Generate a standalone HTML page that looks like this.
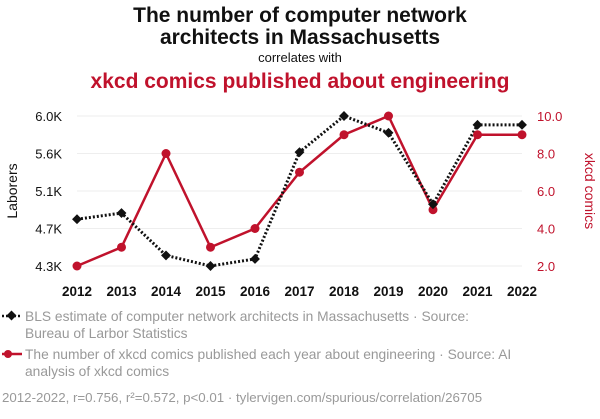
<!DOCTYPE html>
<html><head><meta charset="utf-8"><style>
body{margin:0;background:#fff;width:600px;height:414px;overflow:hidden;font-family:"Liberation Sans",sans-serif}
svg text{font-family:"Liberation Sans",sans-serif}
</style></head><body>
<svg id="chart" width="600" height="414">
<text x="300" y="22" text-anchor="middle" font-size="21" font-weight="bold" fill="#111">The number of computer network</text>
<text x="300" y="44" text-anchor="middle" font-size="21" font-weight="bold" fill="#111">architects in Massachusetts</text>
<text x="300" y="62" text-anchor="middle" font-size="13" fill="#111">correlates with</text>
<text x="300" y="88" text-anchor="middle" font-size="21" font-weight="bold" fill="#c0122c">xkcd comics published about engineering</text>
<g id="grid"></g><g id="axes"></g><g id="marks"></g>
<text transform="translate(17,191) rotate(-90)" text-anchor="middle" font-size="14" fill="#111">Laborers</text>
<text transform="translate(585,191) rotate(90)" text-anchor="middle" font-size="14" fill="#c0122c">xkcd comics</text>
<g>
<line x1="2" y1="316" x2="22" y2="316" stroke="#111" stroke-width="2.5" stroke-dasharray="2,2"/>
<rect x="8" y="312" width="7" height="7" transform="rotate(45 11.5 315.5)" fill="#111"/>
<text x="25" y="321" font-size="13.8" fill="#999">BLS estimate of computer network architects in Massachusetts · Source:</text>
<text x="25" y="338" font-size="13.8" fill="#999">Bureau of Larbor Statistics</text></g>
<g>
<line x1="2" y1="354" x2="22" y2="354" stroke="#c0122c" stroke-width="2.5"/>
<circle cx="8" cy="354" r="4" fill="#c0122c"/>
<text x="25" y="359" font-size="13.8" fill="#999">The number of xkcd comics published each year about engineering · Source: AI</text>
<text x="25" y="376" font-size="13.8" fill="#999">analysis of xkcd comics</text></g>
<text x="2" y="402" font-size="13.3" fill="#999">2012-2022, r=0.756, r²=0.572, p&lt;0.01 · tylervigen.com/spurious/correlation/26705</text>
</svg>
<script>
const years=[2012,2013,2014,2015,2016,2017,2018,2019,2020,2021,2022];
const laborers=[4.83,4.90,4.42,4.30,4.38,5.59,6.0,5.81,5.00,5.90,5.90];
const comics=[2,3,8,3,4,7,9,10,5,9,9];
const leftTicks=[4.3,4.725,5.15,5.575,6.0];
const leftTickLabels=["4.3K","4.7K","5.1K","5.6K","6.0K"];
const rightTicks=[2,4,6,8,10];
const rightTickLabels=["2.0","4.0","6.0","8.0","10.0"];
const NS="http://www.w3.org/2000/svg";
const x=v=>77+(v-2012)*44.5;
const yL=v=>266-(v-4.3)/1.7*150;
const yR=v=>266-(v-2)/8*150;
function mk(t,a,p){const e=document.createElementNS(NS,t);for(const k in a)e.setAttribute(k,a[k]);document.getElementById(p).appendChild(e);return e;}
leftTicks.forEach((t,i)=>{
 const g=mk('line',{x1:77,x2:522,y1:yL(t),y2:yL(t),stroke:'#eee'},'grid');
 
 
 const l=mk('text',{x:62,y:yL(t)+5,'text-anchor':'end','font-size':13,fill:'#111'},'axes');l.textContent=leftTickLabels[i];
 
 
});
rightTicks.forEach((t,i)=>{
 const l=mk('text',{x:537,y:yR(t)+5,'font-size':13,fill:'#c0122c'},'axes');l.textContent=rightTickLabels[i];
 
 
});
years.forEach(yv=>{
 const l=mk('text',{x:x(yv),y:296,'text-anchor':'middle','font-size':13.5,'font-weight':'bold',fill:'#111'},'axes');l.textContent=yv;
 
 
});
const rl=mk('polyline',{points:years.map((yv,i)=>x(yv)+','+yR(comics[i])).join(' '),fill:'none',stroke:'#c0122c','stroke-width':2.5},'marks');


const bl=mk('polyline',{points:years.map((yv,i)=>x(yv)+','+yL(laborers[i])).join(' '),fill:'none',stroke:'#111','stroke-width':3,'stroke-dasharray':'2,2'},'marks');


years.forEach((yv,i)=>{
 const c=mk('circle',{cx:x(yv),cy:yR(comics[i]),r:4.5,fill:'#c0122c'},'marks');
 
 
 const cx=x(yv),cy=yL(laborers[i]);
 const d=mk('rect',{x:cx-3.5,y:cy-3.5,width:7,height:7,fill:'#111',transform:`rotate(45 ${cx} ${cy})`},'marks');
 
 
});
</script>
</body></html>
